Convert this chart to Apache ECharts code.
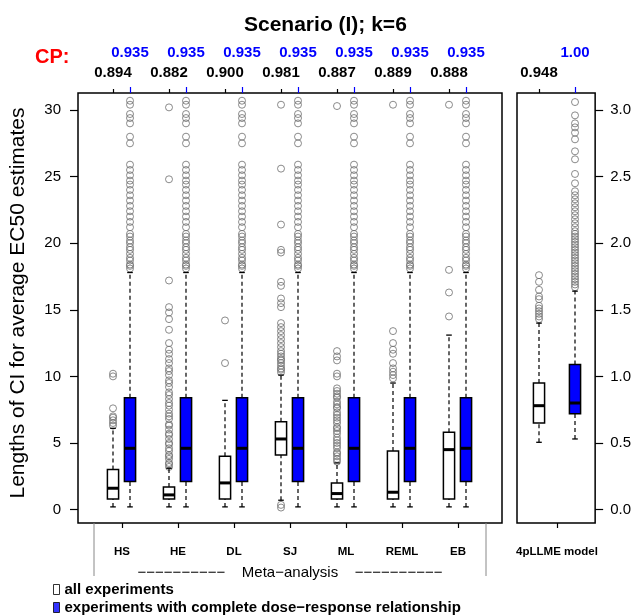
<!DOCTYPE html>
<html>
<head>
<meta charset="utf-8">
<script src="https://cdn.jsdelivr.net/npm/echarts@6/dist/echarts.min.js"></script>
<style>html,body{margin:0;padding:0;background:#fff;}#c{width:634px;height:615px;}</style>
</head>
<body>
<div id="c"></div>
<script>
// ---------- data ----------
const methods = ['HS', 'HE', 'DL', 'SJ', 'ML', 'REML', 'EB'];
const cpAll = ['0.894', '0.882', '0.900', '0.981', '0.887', '0.889', '0.888'];
const cpComplete = ['0.935', '0.935', '0.935', '0.935', '0.935', '0.935', '0.935'];
const modelName = '4pLLME model';
const cpModelAll = '0.948';
const cpModelComplete = '1.00';

// [lower whisker, Q1, median, Q3, upper whisker]
const statsAll = [
  [0.2, 0.8, 1.6, 3.0, 6.1],
  [0.2, 0.8, 1.1, 1.7, 3.1],
  [0.2, 0.8, 2.0, 4.0, 8.2],
  [0.7, 4.1, 5.3, 6.6, 10.1],
  [0.2, 0.8, 1.2, 2.0, 3.5],
  [0.2, 0.8, 1.3, 4.4, 9.5],
  [0.2, 0.8, 4.5, 5.8, 13.1]
];
const statsComplete = [
  [0.2, 2.1, 4.6, 8.4, 17.8],
  [0.2, 2.1, 4.6, 8.4, 17.8],
  [0.2, 2.1, 4.6, 8.4, 17.8],
  [0.2, 2.1, 4.6, 8.4, 17.8],
  [0.2, 2.1, 4.6, 8.4, 17.8],
  [0.2, 2.1, 4.6, 8.4, 17.8],
  [0.2, 2.1, 4.6, 8.4, 17.8]
];
const outliersAll = [
  [6.3, 6.5, 6.7, 6.9, 7.0, 7.6, 10.0, 10.2],
  [3.2, 3.4, 3.5, 3.8, 4.0, 4.1, 4.4, 4.6, 4.9, 5.0, 5.3, 5.6, 5.7, 6.0, 6.3, 6.4, 6.8, 7.0, 7.2, 7.5, 7.8, 8.0, 8.3, 8.6, 8.8, 9.2, 9.5, 9.7, 10.1, 10.4, 10.6, 11.0, 11.3, 11.7, 12.0, 12.5, 13.5, 14.3, 14.8, 15.2, 17.2, 24.8, 30.2],
  [11.0, 14.2],
  [0.15, 0.35, 10.3, 10.5, 10.6, 10.8, 11.0, 11.2, 11.3, 11.5, 11.7, 11.9, 12.2, 12.5, 12.8, 13.1, 13.4, 13.7, 14.0, 15.2, 15.5, 15.85, 16.8, 17.1, 19.3, 19.5, 21.4, 25.6, 30.4],
  [3.6, 3.8, 4.0, 4.2, 4.3, 4.6, 4.8, 5.0, 5.2, 5.4, 5.7, 5.9, 6.1, 6.2, 6.5, 6.7, 6.9, 7.1, 7.3, 7.6, 7.7, 7.9, 8.1, 8.4, 8.5, 8.7, 8.9, 9.1, 10.0, 10.2, 11.2, 11.5, 11.9, 30.3],
  [9.85, 10.1, 10.35, 10.6, 11.0, 11.7, 12.0, 12.5, 13.4, 30.4],
  [14.5, 16.3, 18.0, 30.4]
];
const outliersCompleteOne = [18.1, 18.3, 18.4, 18.7, 18.9, 19.2, 19.5, 19.7, 20.0, 20.2, 20.5, 20.7, 21.2, 21.6, 22.0, 22.4, 22.8, 23.2, 23.6, 24.0, 24.4, 24.7, 25.1, 25.5, 25.9, 27.5, 28.0, 29.0, 29.4, 29.7, 30.4, 30.7];
const outliersComplete = methods.map(() => outliersCompleteOne);

const statsModelAll = [0.505, 0.65, 0.78, 0.95, 1.40];
const statsModelComplete = [0.53, 0.72, 0.80, 1.09, 1.64];
const outliersModelAll = [1.43, 1.45, 1.47, 1.49, 1.51, 1.53, 1.58, 1.60, 1.65, 1.71, 1.76];
const outliersModelComplete = [1.67, 1.69, 1.71, 1.73, 1.75, 1.77, 1.79, 1.81, 1.83, 1.85, 1.87, 1.89, 1.91, 1.93, 1.95, 1.97, 1.99, 2.01, 2.03, 2.05, 2.07, 2.09, 2.12, 2.15, 2.18, 2.21, 2.24, 2.27, 2.30, 2.33, 2.36, 2.39, 2.45, 2.52, 2.63, 2.69, 2.78, 2.83, 2.87, 2.90, 2.96, 3.06];

const yTicksLeft = [0, 5, 10, 15, 20, 25, 30];
const yTicksRight = [0, 0.5, 1.0, 1.5, 2.0, 2.5, 3.0];
const nameAll = 'all experiments';
const nameComplete = 'experiments with complete dose\u2212response relationship';

// ---------- layout ----------
const FONT = '"Liberation Sans", Arial, sans-serif';
const TOP = 93, H = 430;
const LMIN = -1.01, LMAX = 31.28, RMIN = -0.101, RMAX = 3.128;
const BLUE = '#0000ff';

function boxRenderer(fill, frac) {
  return function (params, api) {
    const cat = api.value(0);
    const v = [api.value(1), api.value(2), api.value(3), api.value(4), api.value(5)];
    const x = api.coord([cat, v[2]])[0];
    const py = (val) => api.coord([cat, val])[1];
    const w = api.size([1, 0])[0] * frac;
    const h = w / 2, s = w / 4;
    const dash = { stroke: '#000', lineWidth: 1.2, lineDash: [4, 3] };
    const solid = { stroke: '#000', lineWidth: 1.3 };
    return {
      type: 'group',
      children: [
        { type: 'line', shape: { x1: x, y1: py(v[0]), x2: x, y2: py(v[1]) }, style: dash },
        { type: 'line', shape: { x1: x, y1: py(v[3]), x2: x, y2: py(v[4]) }, style: dash },
        { type: 'line', shape: { x1: x - s, y1: py(v[0]), x2: x + s, y2: py(v[0]) }, style: solid },
        { type: 'line', shape: { x1: x - s, y1: py(v[4]), x2: x + s, y2: py(v[4]) }, style: solid },
        { type: 'rect', shape: { x: x - h, y: py(v[3]), width: w, height: py(v[1]) - py(v[3]) },
          style: { fill: fill, stroke: '#000', lineWidth: 1.5 } },
        { type: 'line', shape: { x1: x - h, y1: py(v[2]), x2: x + h, y2: py(v[2]) },
          style: { stroke: '#000', lineWidth: 3 } }
      ]
    };
  };
}

function boxData(stats) { return stats.map((s, i) => [i].concat(s)); }
function outlierData(lists) {
  const out = [];
  lists.forEach((l, i) => l.forEach(v => out.push([i, v])));
  return out;
}

const hiddenY = (min, max, gi) => ({ type: 'value', gridIndex: gi, min: min, max: max, show: false,
  axisLine: { show: false, onZero: false } });
const hiddenX = (gi) => ({ type: 'value', gridIndex: gi, min: 0, max: 1, show: false,
  axisLine: { show: false, onZero: false } });

function topAxis(gi, cats, labels, color, tickLen, margin) {
  return {
    type: 'category', gridIndex: gi, data: cats, position: 'top',
    axisLine: { show: false, onZero: false },
    axisTick: { show: true, alignWithLabel: true, length: tickLen, lineStyle: { color: color, width: 1.2 } },
    axisLabel: { interval: 0, margin: margin, color: color, fontFamily: FONT, fontWeight: 'bold', fontSize: 15,
      formatter: (val, idx) => labels[idx] },
    splitLine: { show: false }
  };
}

function bottomAxis(gi, cats, extra) {
  return Object.assign({
    type: 'category', gridIndex: gi, data: cats, position: 'bottom',
    axisLine: { show: false, onZero: false },
    axisTick: { show: true, alignWithLabel: true, length: 5, lineStyle: { color: '#000', width: 1.2 } },
    axisLabel: { interval: 0, margin: 23, color: '#000', fontFamily: FONT, fontWeight: 'bold', fontSize: 11.5 },
    splitLine: { show: false }
  }, extra || {});
}

const outlierStyle = { color: 'rgba(0,0,0,0)', borderColor: '#6e6e6e', borderWidth: 1 };

const option = {
  backgroundColor: '#fff',
  animation: false,
  title: {
    text: 'Scenario (I); k=6', left: 239, top: 10,
    textStyle: { fontFamily: FONT, fontSize: 21, fontWeight: 'bold', color: '#000' }
  },
  legend: {
    orient: 'vertical', left: 48, top: 576, height: 80, itemWidth: 6, itemHeight: 10, itemGap: 1,
    selectedMode: false,
    textStyle: { fontFamily: FONT, fontWeight: 'bold', fontSize: 15, lineHeight: 17, color: '#000' },
    data: [
      { name: nameAll, icon: 'rect', itemStyle: { color: '#fff', borderColor: '#000', borderWidth: 1 } },
      { name: nameComplete, icon: 'rect', itemStyle: { color: BLUE, borderColor: '#000', borderWidth: 1 } }
    ]
  },
  grid: [
    { left: 78, top: TOP, width: 424, height: H, show: true, borderColor: '#000', borderWidth: 1.5, backgroundColor: 'transparent' },
    { left: 85, top: TOP, width: 392, height: H },
    { left: 102, top: TOP, width: 392, height: H },
    { left: 94, top: TOP, width: 392, height: H },
    { left: 517, top: TOP, width: 79, height: H, show: true, borderColor: '#000', borderWidth: 1.5, backgroundColor: 'transparent' },
    { left: 521, top: TOP, width: 36, height: H },
    { left: 557, top: TOP, width: 36, height: H },
    { left: 521, top: TOP, width: 72, height: H }
  ],
  xAxis: [
    hiddenX(0),
    topAxis(1, methods, cpAll, '#000', 4, 13),
    topAxis(2, methods, cpComplete, BLUE, 6, 33),
    bottomAxis(3, methods, {
      name: '\u2212\u2212\u2212\u2212\u2212\u2212\u2212\u2212\u2212\u2212    Meta\u2212analysis    \u2212\u2212\u2212\u2212\u2212\u2212\u2212\u2212\u2212\u2212',
      nameLocation: 'middle', nameGap: 42,
      nameTextStyle: { fontFamily: FONT, fontSize: 15, color: '#000' }
    }),
    hiddenX(4),
    topAxis(5, [modelName], [cpModelAll], '#000', 4, 13),
    topAxis(6, [modelName], [cpModelComplete], BLUE, 6, 33),
    bottomAxis(7, [modelName])
  ],
  yAxis: [
    {
      type: 'value', gridIndex: 0, min: LMIN, max: LMAX, position: 'left',
      axisLine: { show: false, onZero: false }, splitLine: { show: false },
      axisTick: { show: true, length: 8, customValues: yTicksLeft, lineStyle: { color: '#000', width: 1.2 } },
      axisLabel: { show: true, margin: 17, customValues: yTicksLeft, color: '#000', fontFamily: FONT, fontSize: 15 },
      name: 'Lengths of CI for average EC50 estimates', nameLocation: 'middle', nameGap: 49,
      nameTextStyle: { fontFamily: FONT, fontSize: 21, color: '#000', padding: [0, 0, 0, 10] }
    },
    hiddenY(LMIN, LMAX, 1),
    hiddenY(LMIN, LMAX, 2),
    hiddenY(LMIN, LMAX, 3),
    {
      type: 'value', gridIndex: 4, min: RMIN, max: RMAX, position: 'right',
      axisLine: { show: false, onZero: false }, splitLine: { show: false },
      axisTick: { show: true, length: 8, customValues: yTicksRight, lineStyle: { color: '#000', width: 1.2 } },
      axisLabel: { show: true, margin: 15, customValues: yTicksRight, color: '#000', fontFamily: FONT, fontSize: 15,
        formatter: (v) => Number(v).toFixed(1) }
    },
    hiddenY(RMIN, RMAX, 5),
    hiddenY(RMIN, RMAX, 6),
    hiddenY(RMIN, RMAX, 7)
  ],
  series: [
    { name: nameAll, type: 'scatter', xAxisIndex: 1, yAxisIndex: 1, symbol: 'circle', symbolSize: 7,
      itemStyle: outlierStyle, silent: true, data: outlierData(outliersAll), z: 2 },
    { name: nameComplete, type: 'scatter', xAxisIndex: 2, yAxisIndex: 2, symbol: 'circle', symbolSize: 7,
      itemStyle: outlierStyle, silent: true, data: outlierData(outliersComplete), z: 2 },
    { name: nameAll, type: 'custom', xAxisIndex: 1, yAxisIndex: 1, renderItem: boxRenderer('#fff', 0.2),
      encode: { x: 0, y: [1, 2, 3, 4, 5] }, data: boxData(statsAll), silent: true, z: 3 },
    { name: nameComplete, type: 'custom', xAxisIndex: 2, yAxisIndex: 2, renderItem: boxRenderer(BLUE, 0.2),
      encode: { x: 0, y: [1, 2, 3, 4, 5] }, data: boxData(statsComplete), silent: true, z: 3 },
    { name: nameAll, type: 'scatter', xAxisIndex: 5, yAxisIndex: 5, symbol: 'circle', symbolSize: 7,
      itemStyle: outlierStyle, silent: true, data: outlierData([outliersModelAll]), z: 2 },
    { name: nameComplete, type: 'scatter', xAxisIndex: 6, yAxisIndex: 6, symbol: 'circle', symbolSize: 7,
      itemStyle: outlierStyle, silent: true, data: outlierData([outliersModelComplete]), z: 2 },
    { name: nameAll, type: 'custom', xAxisIndex: 5, yAxisIndex: 5, renderItem: boxRenderer('#fff', 0.31),
      encode: { x: 0, y: [1, 2, 3, 4, 5] }, data: boxData([statsModelAll]), silent: true, z: 3 },
    { name: nameComplete, type: 'custom', xAxisIndex: 6, yAxisIndex: 6, renderItem: boxRenderer(BLUE, 0.31),
      encode: { x: 0, y: [1, 2, 3, 4, 5] }, data: boxData([statsModelComplete]), silent: true, z: 3 }
  ],
  graphic: [
    { type: 'text', left: 35, top: 47, style: { text: 'CP:', fill: '#ff0000', font: 'bold 20px ' + FONT } },
    { type: 'line', shape: { x1: 94, y1: 523, x2: 94, y2: 576 }, style: { stroke: '#888', lineWidth: 1 } },
    { type: 'line', shape: { x1: 486, y1: 523, x2: 486, y2: 576 }, style: { stroke: '#888', lineWidth: 1 } }
  ]
};

const chart = echarts.init(document.getElementById('c'), null, { renderer: 'canvas' });
chart.setOption(option);
</script>
</body>
</html>
